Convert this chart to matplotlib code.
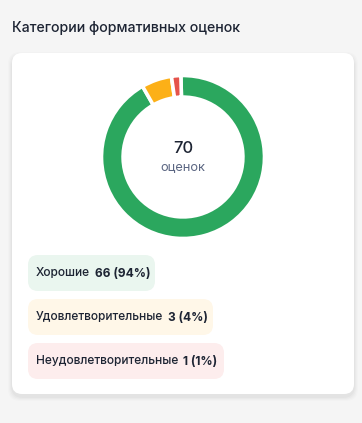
import matplotlib
matplotlib.use("Agg")
import matplotlib.pyplot as plt
from matplotlib.patches import FancyBboxPatch

plt.rcParams['font.family'] = ['Inter', 'DejaVu Sans']

title = "Категории формативных оценок"
categories = ["Хорошие", "Удовлетворительные", "Неудовлетворительные"]
counts = [66, 3, 1]
percents = [94, 4, 1]
total = 70
center_label = "оценок"
# arc sizes as drawn in the ring
ring_values = [64.5, 4.2, 1.3]
ring_colors = ["#2ba75e", "#fcb017", "#e5534b"]
pill_colors = ["#eaf6ef", "#fff7e8", "#fdeded"]

W, H = 362, 423
fig = plt.figure(figsize=(W / 100, H / 100), dpi=100)
fig.patch.set_facecolor("#f5f5f5")

bg = fig.add_axes([0, 0, 1, 1])
bg.set_xlim(0, W)
bg.set_ylim(H, 0)
bg.axis("off")

# card shadow + card
for i, a in enumerate([0.025, 0.02, 0.015, 0.01]):
    d = 2 + i * 2
    bg.add_patch(FancyBboxPatch((12 - d / 2, 53 - d / 2 + 3), 342 + d, 341 + d,
                                boxstyle="round,pad=0,rounding_size=12",
                                fc="#000000", ec="none", alpha=a, zorder=1))
bg.add_patch(FancyBboxPatch((12, 53), 342, 341, boxstyle="round,pad=0,rounding_size=10",
                            fc="white", ec="none", zorder=2))

bg.text(12, 28, title, fontsize=10.2, fontweight="medium", color="#1d2433",
        va="center", ha="left", zorder=3)

# pills
pill_widths = [127, 185, 196]
pill_tops = [255, 299, 343]
fs = 8.6
for cat, c, p, col, pw, top in zip(categories, counts, percents, pill_colors, pill_widths, pill_tops):
    bg.add_patch(FancyBboxPatch((28, top), pw, 36, boxstyle="round,pad=0,rounding_size=10",
                                fc=col, ec="none", zorder=3))
    ymid = top + 18.5
    t = bg.text(36, ymid, cat, fontsize=fs, fontweight="medium", color="#1d2433",
                va="center", ha="left", zorder=4)
    fig.canvas.draw()
    bb = t.get_window_extent()
    bg.annotate(f"{c} ({p}%)", xy=(bb.x1 + 5, H - ymid), xycoords="figure pixels",
                fontsize=fs, fontweight="bold", color="#1d2433", va="center", ha="left", zorder=4)

# donut
cx, cy, R = 183, 157, 81.5
pax = fig.add_axes([(cx - R) / W, 1 - (cy + R) / H, 2 * R / W, 2 * R / H])
pax.pie(ring_values, colors=ring_colors, startangle=91.5, counterclock=False,
        wedgeprops=dict(width=0.265, edgecolor="white", linewidth=2.6))
pax.set_xlim(-1, 1)
pax.set_ylim(-1, 1)
pax.set_aspect("auto")
pax.axis("off")
pax.text(0, 0.11, str(total), fontsize=12, fontweight="medium", color="#1d2433", ha="center", va="center")
pax.text(0, -0.12, center_label, fontsize=9.2, color="#5b6682", ha="center", va="center")

fig.savefig("out.png", dpi=100, facecolor=fig.get_facecolor())
